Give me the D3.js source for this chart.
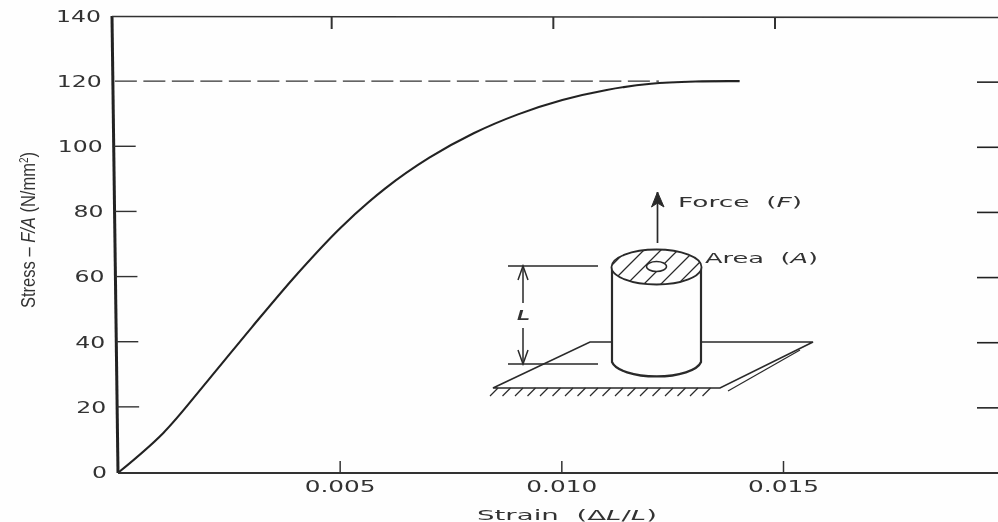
<!DOCTYPE html>
<html>
<head>
<meta charset="utf-8" />
<title>Stress - Strain</title>
<script src="https://d3js.org/d3.v7.min.js"></script>
<style>
  html, body { margin: 0; padding: 0; background: #fefefe; }
  svg { display: block; }
  text { fill: #333; font-family: "DejaVu Sans", sans-serif; }
</style>
</head>
<body>
<div id="canvas"></div>
<script>
// values
var strain = [0, 0.001, 0.002, 0.003, 0.004, 0.005, 0.006, 0.007, 0.008, 0.009, 0.010, 0.011, 0.012, 0.013, 0.014];
var stress = [0, 12, 28, 44.5, 60.5, 75, 87, 96.5, 104, 109.8, 114.2, 117.3, 119.2, 119.9, 120];
var yTicks = [0, 20, 40, 60, 80, 100, 120, 140];
var xTicks = [0.005, 0.010, 0.015];
var xTickLabels = ["0.005", "0.010", "0.015"];
var limitStress = 120;
var limitEnd = 0.0122;

var svgWidth = 998, svgHeight = 522;
var svg = d3.select("#canvas").append("svg")
  .attr("width", svgWidth).attr("height", svgHeight);

// scan softness
svg.append("filter").attr("id", "soft")
  .attr("filterUnits", "userSpaceOnUse")
  .attr("x", 0).attr("y", 0).attr("width", svgWidth).attr("height", svgHeight)
  .append("feGaussianBlur").attr("stdDeviation", 0.5);
var page = svg.append("g").attr("filter", "url(#soft)");

var x = d3.scaleLinear().domain([0, 0.015]).range([118, 783]);
var y = d3.scaleLinear().domain([0, 140]).range([472, 16]);
// the scan is a little crooked: the left edge leans
var lean = d3.scaleLinear().domain([0, 140]).range([118, 112]);

// frame
page.append("line").attr("x1", lean(0)).attr("y1", y(0) + 1).attr("x2", lean(140)).attr("y2", y(140))
  .attr("stroke", "#222").attr("stroke-width", 3);
page.append("line").attr("x1", lean(140)).attr("y1", y(140) + 0.5).attr("x2", 998).attr("y2", y(140) + 1.5)
  .attr("stroke", "#333").attr("stroke-width", 1.6);
page.append("line").attr("x1", lean(0)).attr("y1", y(0) + 1).attr("x2", 998).attr("y2", y(0) + 1)
  .attr("stroke", "#333").attr("stroke-width", 1.8);

// y axis labels and inner ticks
var yAxis = page.append("g").call(d3.axisLeft(y).tickValues(yTicks).tickSize(0).tickPadding(11));
yAxis.select(".domain").remove();
yAxis.selectAll(".tick").attr("transform", function(d) {
  return "translate(" + lean(d) + "," + (y(d) + 1) + ")";
});
yAxis.selectAll("text")
  .style("font-size", "15px")
  .attr("fill", "#333")
  .attr("lengthAdjust", "spacingAndGlyphs")
  .attr("textLength", function(d) { return String(d).length * 15; });

var tickLeft = page.append("g");
tickLeft.selectAll("line").data(yTicks.filter(function(d) { return d > 0 && d < 120; }))
  .enter().append("line")
  .attr("x1", function(d) { return lean(d); })
  .attr("x2", function(d) { return lean(d) + 22; })
  .attr("y1", function(d) { return y(d); })
  .attr("y2", function(d) { return y(d); })
  .attr("stroke", "#333").attr("stroke-width", 1.4);

var tickRight = page.append("g");
tickRight.selectAll("line").data(yTicks.filter(function(d) { return d > 0 && d < 140; }))
  .enter().append("line")
  .attr("x1", 977).attr("x2", 998)
  .attr("y1", function(d) { return y(d) + 1; })
  .attr("y2", function(d) { return y(d) + 1; })
  .attr("stroke", "#222").attr("stroke-width", 1.6);

// x axis: labels and ticks going up
var xAxis = page.append("g").attr("transform", "translate(0," + y(0) + ")")
  .call(d3.axisBottom(x).tickValues(xTicks).tickSize(0).tickPadding(9)
    .tickFormat(function(d, i) { return xTickLabels[i]; }));
xAxis.select(".domain").remove();
xAxis.selectAll("text")
  .style("font-size", "15px")
  .attr("fill", "#333")
  .attr("lengthAdjust", "spacingAndGlyphs")
  .attr("textLength", 71);
xAxis.selectAll(".tick").append("line").attr("y1", 1).attr("y2", -11)
  .attr("stroke", "#333").attr("stroke-width", 1.5);

// top ticks, shifted with the lean
var tickTop = page.append("g");
tickTop.selectAll("line").data(xTicks).enter().append("line")
  .attr("x1", function(d) { return x(d) - 8; })
  .attr("x2", function(d) { return x(d) - 8; })
  .attr("y1", y(140) + 1).attr("y2", y(140) + 13)
  .attr("stroke", "#333").attr("stroke-width", 2);

// dashed limit line
page.append("line")
  .attr("x1", lean(limitStress) + 2).attr("x2", x(limitEnd))
  .attr("y1", y(limitStress)).attr("y2", y(limitStress))
  .attr("stroke", "#333").attr("stroke-width", 1.4)
  .attr("stroke-dasharray", "22 6.5");

// curve
var line = d3.line()
  .x(function(d, i) { return x(strain[i]) + 1; })
  .y(function(d) { return y(d); })
  .curve(d3.curveCatmullRom);
page.append("path").datum(stress)
  .attr("d", line).attr("fill", "none")
  .attr("stroke", "#222").attr("stroke-width", 2.1);

// axis titles
page.append("text").attr("transform", "translate(35,308) rotate(-90)")
  .attr("textLength", 156).attr("lengthAdjust", "spacingAndGlyphs")
  .style("font-family", "'Liberation Sans', sans-serif").style("font-size", "20px")
  .html('Stress \u2013 <tspan font-style="italic">F/A</tspan> (N/mm<tspan dy="-7" font-size="12">2</tspan><tspan dy="7">)</tspan>');

// inset sketch of the test piece, in its own pixel space
var sketch = page.append("g").attr("fill", "none").attr("stroke", "#2a2a2a").attr("stroke-width", 1.6);
var path = function(d, w) {
  var p = sketch.append("path").attr("d", d);
  if (w) p.attr("stroke-width", w);
  return p;
};
// plate
path("M612,342 L590,342 L493,388 L720,388 L813,342 L702,342");
path("M728,391 L800,350", 1.2);
var hatch = d3.range(498, 720, 12.5).map(function(v) { return "M" + v + ",388 l-8,8"; }).join(" ");
path(hatch, 1.2);
// cylinder
path("M612,267 L612,362 A45,17 0 0 0 701,362 L701,267", 2.2);
sketch.append("ellipse").attr("cx", 656.5).attr("cy", 267).attr("rx", 45).attr("ry", 17.5)
  .attr("fill", "#fefefe").attr("stroke-width", 1.8);
svg.append("clipPath").attr("id", "top").append("ellipse")
  .attr("cx", 656.5).attr("cy", 267).attr("rx", 45).attr("ry", 17.5);
var lines = d3.range(585, 730, 17).map(function(v) { return "M" + v + ",292 l50,-50"; }).join(" ");
path(lines, 1.3).attr("clip-path", "url(#top)");
sketch.append("ellipse").attr("cx", 656.5).attr("cy", 266.5).attr("rx", 10).attr("ry", 5)
  .attr("fill", "#fefefe").attr("stroke-width", 1.5);
// force arrow
path("M657.5,243 L657.5,192", 1.7);
sketch.append("path").attr("d", "M651.5,207 L657.5,192 L664,207 L657.5,203 Z").attr("fill", "#2a2a2a").attr("stroke-width", 1);
// length marks
path("M508,266 H598 M508,364 H598", 1.3);
path("M523,266 V303 M523,328 V364", 1.5);
path("M518,280 L523,266 L528,280 M518,350 L523,364 L528,350", 1.5);

// text labels, stretched to the wide typewriter look of the original
var label = function(px, py, len, html) {
  page.append("text").attr("x", px).attr("y", py)
    .attr("textLength", len).attr("lengthAdjust", "spacingAndGlyphs")
    .style("font-size", "14.5px")
    .attr("xml:space", "preserve").html(html);
};
label(678, 207, 124, 'Force  (<tspan font-style="italic">F</tspan>)');
label(705, 263, 113, 'Area  (<tspan font-style="italic">A</tspan>)');
label(477, 520, 180, 'Strain  (\u0394<tspan font-style="italic">L</tspan>/<tspan font-style="italic">L</tspan>)');
page.append("text").attr("x", 517).attr("y", 320)
  .attr("textLength", 13).attr("lengthAdjust", "spacingAndGlyphs")
  .style("font-family", "'Liberation Sans', sans-serif").style("font-style", "italic").style("font-weight", "bold")
  .style("font-size", "15px").text("L");
</script>
</body>
</html>
